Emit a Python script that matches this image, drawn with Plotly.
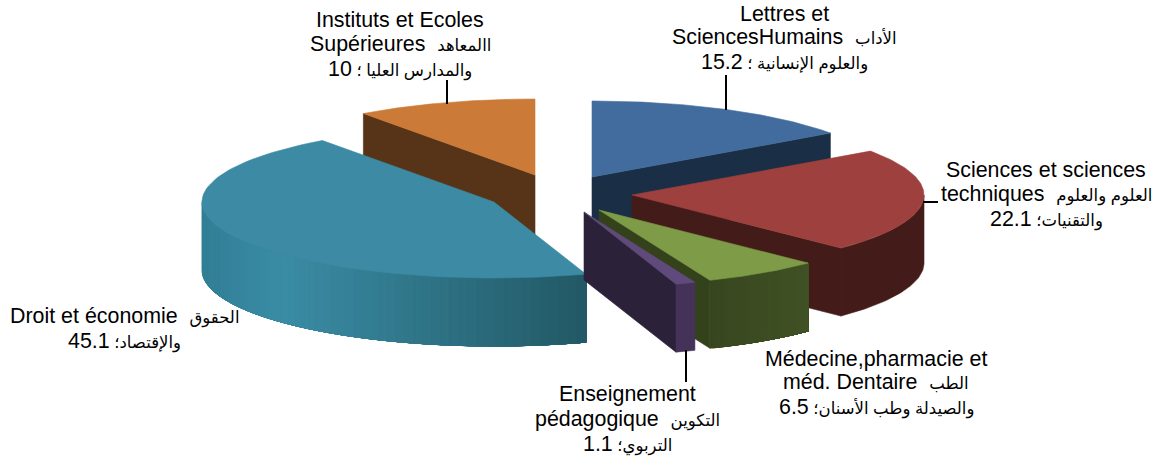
import numpy as np
import plotly.graph_objects as go

# --- data ---
categories = ["Lettres et SciencesHumains", "Sciences et sciences techniques",
              "Médecine,pharmacie et méd. Dentaire", "Enseignement pédagogique",
              "Droit et économie", "Instituts et Ecoles Supérieures"]
values = [15.2, 22.1, 6.5, 1.1, 45.1, 10]

AR = '<span style="font-size:16.5px">{}</span>'
label_lines = [
    ["Lettres et", "SciencesHumains  " + AR.format("الأداب"), AR.format("والعلوم الإنسانية ؛ ") + "15.2"],
    ["Sciences et sciences", "techniques  " + AR.format("العلوم والعلوم"), AR.format("والتقنيات؛ ") + "22.1"],
    ["Médecine,pharmacie et", "méd. Dentaire  " + AR.format("الطب"), AR.format("والصيدلة وطب الأسنان؛ ") + "6.5"],
    ["Enseignement", "pédagogique  " + AR.format("التكوين"), AR.format("التربوي؛ ") + "1.1"],
    ["Droit et économie  " + AR.format("الحقوق"), AR.format("والإقتصاد؛ ") + "45.1"],
    ["Instituts et Ecoles", "Supérieures  " + AR.format("االمعاهد"), AR.format("والمدارس العليا ؛ ") + "10"],
]

# --- layout of the exploded projected pie ---
apex_x = [592, 632, 599, 584, 494, 535]
apex_y = [177, 195, 210, 212, 202, 175]
RX, RY, DEPTH = 292, 76, 68
top_colors = ["#426C9D", "#9E413E", "#7E9C47", "#604A7B", "#3C8AA3", "#CB7A37"]
wall_colors = ["#1A2E46", "#431C19", "#3A4A20", "#443259", "#3A8BA4", "#573317"]
side_colors = ["#1A2E46", "#431C19", "#34421C", "#2B2139", "#3A8BA4", "#573317"]
label_x = [784, 1046, 876, 627, 124, 400]
label_line_y = [[14, 37, 62], [170, 194, 219], [359, 382, 407], [394, 419, 444], [316, 341], [20, 44, 69]]
draw_order = [0, 5, 4, 1, 2, 3]
leaders = [([726, 726], [75, 110]), ([447, 447], [80, 104]),
           ([686, 686], [350, 382]), ([923, 938], [202, 202])]

cum = np.concatenate([[0], np.cumsum(values)]) / np.sum(values) * 360.0


def px(i, a):
    return apex_x[i] + RX * np.sin(np.radians(a))


def py(i, a):
    return apex_y[i] - RY * np.cos(np.radians(a))


def poly(xs, ys, color, width=0.6):
    return go.Scatter(x=list(xs), y=list(ys), mode="lines", fill="toself", fillcolor=color,
                      line=dict(color=color, width=width), hoverinfo="skip", showlegend=False)


def mix(c1, c2, t):
    a = [int(c1[k:k + 2], 16) for k in (1, 3, 5)]
    b = [int(c2[k:k + 2], 16) for k in (1, 3, 5)]
    return "#" + "".join(f"{round(u + (v - u) * t):02X}" for u, v in zip(a, b))


def wall_color(i, x):
    if i == 4:  # light at the left, dark at the right
        if x < 280:
            return mix("#317F96", "#3A8CA5", max(0, (x - 202) / 78))
        return mix("#3A8CA5", "#225864", (x - 280) / 305)
    if i == 2:
        return mix("#384720", "#415226", (x - 710) / 98)
    return wall_colors[i]


fig = go.Figure()
for i in draw_order:
    a0, a1 = cum[i], cum[i + 1]
    # straight cut faces that look toward the viewer
    for a, vis in ((a0, np.sin(np.radians(a0)) < -1e-6), (a1, np.sin(np.radians(a1)) > 1e-6)):
        if vis:
            xe, ye = px(i, a), py(i, a)
            fig.add_trace(poly([apex_x[i], xe, xe, apex_x[i], apex_x[i]],
                               [apex_y[i], ye, ye + DEPTH, apex_y[i] + DEPTH, apex_y[i]], side_colors[i]))
    # curved outer wall: overlapping bands painted one over the other, so no seams
    lo, hi = max(a0, 90), min(a1, 270)
    if lo < hi:
        n = 60 if i in (2, 4) else 1
        for e in np.linspace(hi, lo, n, endpoint=False):
            ss = np.linspace(lo, e, max(int(e - lo) + 2, 3))
            xs = [px(i, a) for a in ss]
            ys = [py(i, a) for a in ss]
            xp = xs + xs[::-1] + xs[:1]
            yp = ys + [y + DEPTH for y in ys[::-1]] + ys[:1]
            fig.add_trace(poly(xp, yp, wall_color(i, px(i, e))))
    # top face
    arc = np.linspace(a0, a1, 90)
    fig.add_trace(poly([apex_x[i]] + [px(i, a) for a in arc] + [apex_x[i]],
                       [apex_y[i]] + [py(i, a) for a in arc] + [apex_y[i]], top_colors[i]))

for lx, ly in leaders:
    fig.add_trace(go.Scatter(x=lx, y=ly, mode="lines", line=dict(color="#000000", width=2),
                             hoverinfo="skip", showlegend=False))

for lines, x, ys in zip(label_lines, label_x, label_line_y):
    for t, y in zip(lines, ys):
        fig.add_annotation(x=x, y=y, text=t, showarrow=False, xanchor="center", yanchor="middle",
                           align="center", font=dict(family="Liberation Sans, DejaVu Sans, sans-serif",
                                                     size=21.4, color="#000000"))

fig.update_layout(
    width=1160, height=458, margin=dict(l=0, r=0, t=0, b=0),
    paper_bgcolor="#FFFFFF", plot_bgcolor="#FFFFFF", showlegend=False,
    xaxis=dict(range=[0, 1160], visible=False, fixedrange=True),
    yaxis=dict(range=[458, 0], visible=False, fixedrange=True),
)
fig.write_html("out.html", config=dict(displayModeBar=False),
               post_script="document.body.style.margin='0';document.body.style.overflow='hidden';")
